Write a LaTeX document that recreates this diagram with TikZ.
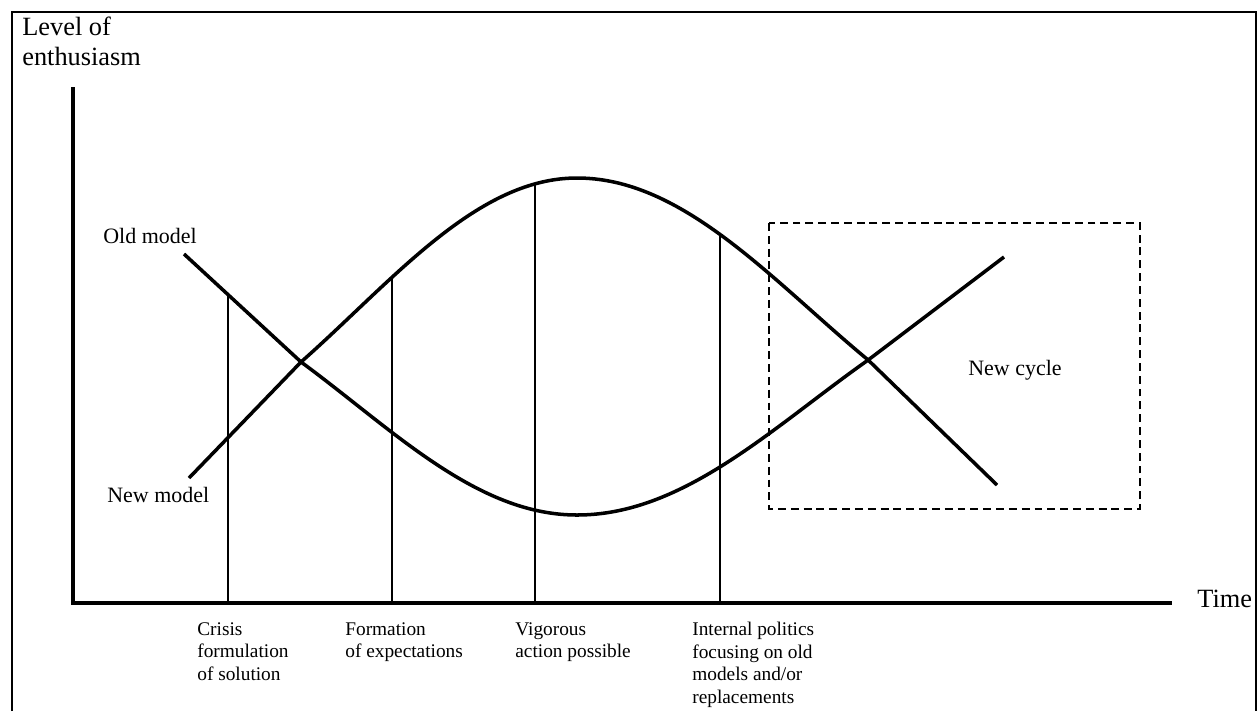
\documentclass[tikz,border=0pt]{standalone}
\usepackage{fontspec}
\setmainfont{Liberation Serif}
\begin{document}
\begin{tikzpicture}[x=0.02cm,y=-0.02cm,
  frame/.style={line width=1.3pt},
  axis/.style={line width=2.8pt},
  curve/.style={line width=2pt,line join=round},
  guide/.style={line width=0.75pt},
  dashbox/.style={line width=0.9pt,dash pattern=on 4.5pt off 2.8pt},
  biglabel/.style={font=\fontsize{15}{17}\selectfont,inner sep=0pt,align=left},
  curvelabel/.style={font=\fontsize{12.5}{15}\selectfont,inner sep=0pt,anchor=base west},
  stagelabel/.style={font=\fontsize{11}{12.8}\selectfont,inner sep=0pt,align=left,anchor=north west}]
\useasboundingbox (0,0) rectangle (1260,711);

% open frame around the figure
\draw[frame] (12,711) -- (12,12) -- (1256,12) -- (1256,711);

% axes
\coordinate (O) at (73,603);
\coordinate (ytop) at (73,87);
\coordinate (xend) at (1172,603);
\draw[axis] (ytop) -- (O) -- (xend);

\node[biglabel,anchor=north west] (ylab) at (22,17) {Level of\\enthusiasm};
\node[biglabel,anchor=base west] (xlab) at (1197,607) {Time};

% new model: rises, peaks, falls
\draw[curve] (189,478)
  -- plot[domain=301:577,samples=80] (\x,{178+134.3*(1-cos(deg(0.007062*(\x-577))))})
  -- plot[domain=577:868,samples=80] (\x,{178+132.8*(1-cos(deg(0.006698*(\x-577))))})
  -- (997,485);

% old model: falls, bottoms out, rises again
\draw[curve] (184,254)
  -- plot[domain=301:577,samples=80] (\x,{515-111.7*(1-cos(deg(0.007062*(\x-577))))})
  -- plot[domain=577:868,samples=80] (\x,{515-113.1*(1-cos(deg(0.006698*(\x-577))))})
  -- (1004,257);

\node[curvelabel] (old) at (103,243) {Old model};
\node[curvelabel] (new) at (107,502) {New model};

% stage markers dropped from the curves to the time axis
\coordinate (g1) at (228,296);
\coordinate (g2) at (392,277.2);
\coordinate (g3) at (535,183.9);
\coordinate (g4) at (720,234.3);
\foreach \g in {g1,g2,g3,g4}
  \draw[guide] (\g) -- (\g |- O);

\node[stagelabel] (s1) at (197,622) {Crisis\\formulation\\of solution};
\node[stagelabel] (s2) at (345,622) {Formation\\of expectations};
\node[stagelabel] (s3) at (515,622) {Vigorous\\action possible};
\node[stagelabel] (s4) at (692,622) {Internal politics\\focusing on old\\models and/or\\replacements};

% the next cycle
\draw[dashbox] (769,223) rectangle (1140,509);
\node[curvelabel] (cycle) at (968,375) {New cycle};
\end{tikzpicture}
\end{document}
